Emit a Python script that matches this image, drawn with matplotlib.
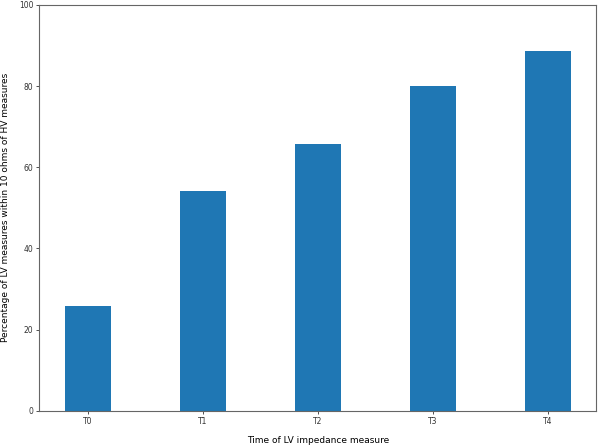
import numpy as np
import matplotlib.pyplot as plt

# values
times = ['T0', 'T1', 'T2', 'T3', 'T4']
percent = [25.8, 54.2, 65.7, 80.0, 88.7]

fig = plt.figure(figsize=(6, 4.45), dpi=100)
ax = fig.add_axes([39.5 / 600, 1 - 410.7 / 445, (596 - 39.5) / 600, (410.7 - 5) / 445])

x = np.arange(len(times))
ax.bar(x, percent, width=0.4, color='#1f77b4')
ax.set_xticks(x)
ax.set_xticklabels(times)
ax.set_ylim(0, 100)
ax.tick_params(labelsize=5.5, length=2.5, width=0.6, pad=2, colors='#333333')
for s in ax.spines.values():
    s.set_color('#666666')
    s.set_linewidth(0.8)

ax.set_xlabel('Time of LV impedance measure', fontsize=6.5, labelpad=7)
ax.set_ylabel('Percentage of LV measures within 10 ohms of HV measures', fontsize=6.5, labelpad=6)

fig.savefig('out.png', dpi=100)
